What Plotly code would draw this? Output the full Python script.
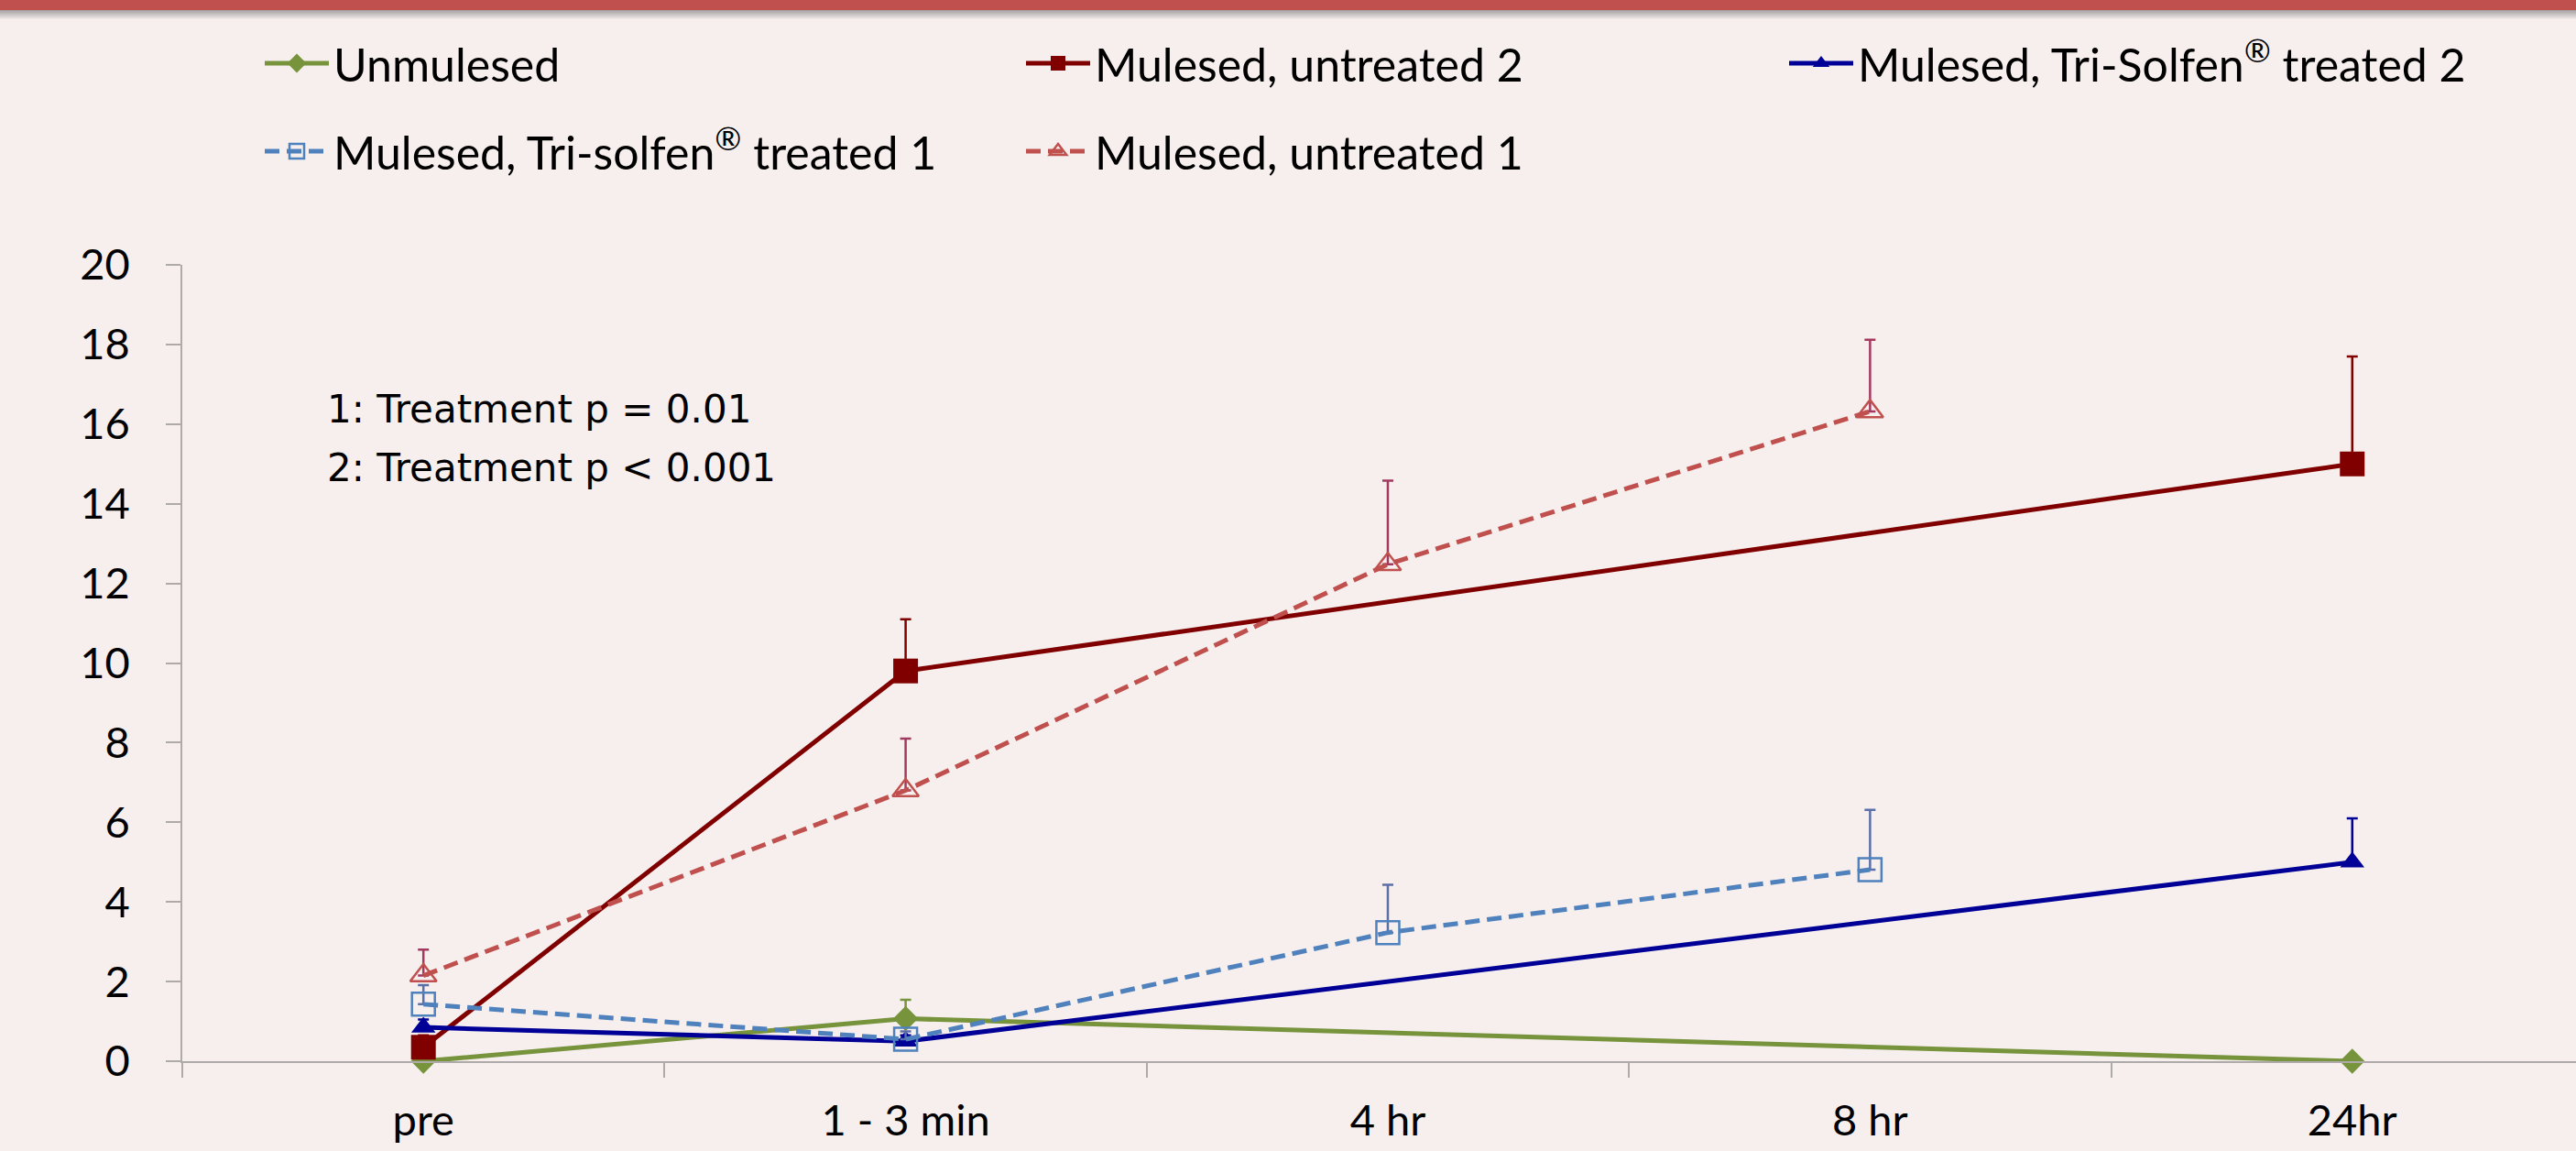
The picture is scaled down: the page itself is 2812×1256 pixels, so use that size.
import plotly.graph_objects as go

# ---------------- data ----------------
categories = ["pre", "1 - 3 min", "4 hr", "8 hr", "24hr"]
y_tick_values = [0, 2, 4, 6, 8, 10, 12, 14, 16, 18, 20]

unmulesed = [0.0, 1.07, None, None, 0.0]
unmulesed_err = [0.0, 0.47, 0.0, 0.0, 0.0]

untreated_2 = [0.35, 9.8, None, None, 15.0]
untreated_2_err = [0.3, 1.3, 0.0, 0.0, 2.7]

treated_2 = [0.85, 0.5, None, None, 5.0]
treated_2_err = [0.2, 0.15, 0.0, 0.0, 1.1]

treated_1 = [1.43, 0.55, 3.23, 4.81, None]
treated_1_err = [0.48, 0.2, 1.2, 1.5, 0.0]

untreated_1 = [2.15, 6.8, 12.48, 16.32, None]
untreated_1_err = [0.65, 1.3, 2.1, 1.8, 0.0]

series_names = [
    "Unmulesed",
    "Mulesed, untreated 2",
    "Mulesed, Tri-Solfen<sup>®</sup> treated 2",
    "Mulesed, Tri-solfen<sup>®</sup> treated 1",
    "Mulesed, untreated 1",
]
annotation_lines = ["1: Treatment p = 0.01", "2: Treatment p < 0.001"]

# ---------------- styling ----------------
W, H = 2812, 1256
ML, MR, MT, MB = 199, 0, 289, 98
BG = "rgb(246,239,238)"
AXIS_GRAY = "rgb(175,170,170)"
GREEN = "#77933C"
MAROON = "#800000"
NAVY = "#000096"
LBLUE = "#4F81BD"
LRED = "#C0504D"
TICK_FONT = dict(family="Lato, Open Sans, sans-serif", size=47, color="black")

plot_w = W - ML - MR
plot_h = H - MT - MB


def px_x(px):
    return (px - ML) / plot_w


def px_y(py):
    return (H - MB - py) / plot_h


# legend slot for each series: (legend id, text-left x px, row centre y px)
legend_slots = [
    ("legend", 374, 69),
    ("legend2", 1205, 69),
    ("legend3", 2038, 69),
    ("legend4", 374, 165),
    ("legend5", 1205, 165),
]

fig = go.Figure()


def add_series(idx, y, err, color, err_color, symbol, msize, dash, lw, mline=0):
    fig.add_trace(go.Scatter(
        x=categories, y=y, name=series_names[idx], mode="lines+markers",
        connectgaps=True, cliponaxis=False, legend=legend_slots[idx][0],
        line=dict(color=color, width=lw, dash=dash),
        marker=dict(symbol=symbol, size=msize, color=color,
                    line=dict(color=color, width=mline)),
        error_y=dict(type="data", array=err, arrayminus=[0] * len(err),
                     symmetric=False, color=err_color, thickness=2.5, width=6),
    ))


add_series(0, unmulesed, unmulesed_err, GREEN, GREEN, "diamond", 21, "solid", 5)
add_series(1, untreated_2, untreated_2_err, MAROON, MAROON, "square", 27, "solid", 5)
add_series(2, treated_2, treated_2_err, NAVY, NAVY, "triangle-up", 23, "solid", 5)
add_series(3, treated_1, treated_1_err, LBLUE, "#5B6FA8", "square-open", 25,
           "16px,8px", 5, mline=2.5)
add_series(4, untreated_1, untreated_1_err, LRED, "#A3395F", "triangle-up-open", 25,
           "16px,8px", 5, mline=2.5)

legends = {}
for lid, tx, cy in legend_slots:
    legends[lid] = dict(
        orientation="h", xref="container", yref="container",
        x=(tx - 90) / W, y=1 - cy / H, xanchor="left", yanchor="middle",
        font=dict(family="Lato, Open Sans, sans-serif", size=50, color="black"),
        itemwidth=70, bgcolor="rgba(0,0,0,0)",
    )

shapes = [
    dict(type="rect", xref="paper", yref="paper", layer="above",
         x0=px_x(0), x1=px_x(W), y0=px_y(11), y1=px_y(-2),
         fillcolor=LRED, line=dict(width=0)),
]
for i in range(10):
    shapes.append(dict(type="rect", xref="paper", yref="paper", layer="above",
                       x0=px_x(0), x1=px_x(W), y0=px_y(12 + i), y1=px_y(11 + i),
                       fillcolor="rgba(90,90,90,%.3f)" % (0.5 * (1 - i / 10)),
                       line=dict(width=0)))

annotations = []
for i, txt in enumerate(annotation_lines):
    annotations.append(dict(
        text=txt, xref="paper", yref="paper", x=px_x(356), y=px_y(447 + 63 * i),
        xanchor="left", yanchor="middle", showarrow=False, borderpad=0,
        font=dict(family="DejaVu Sans, Verdana, sans-serif", size=42, color="black"),
    ))

fig.update_layout(
    width=W, height=H,
    margin=dict(l=ML, r=MR, t=MT, b=MB, pad=0, autoexpand=False),
    paper_bgcolor=BG, plot_bgcolor=BG,
    showlegend=True,
    xaxis=dict(
        type="category", categoryorder="array", categoryarray=categories,
        range=[-0.5, 4.464], tickson="boundaries", automargin=False,
        ticks="outside", ticklen=16, tickwidth=1.5, tickcolor=AXIS_GRAY,
        showline=True, linecolor=AXIS_GRAY, linewidth=2,
        showgrid=False, zeroline=False, tickfont=TICK_FONT,
        ticklabelstandoff=23,
    ),
    yaxis=dict(
        range=[0, 20], tickvals=y_tick_values, automargin=False,
        ticks="outside", ticklen=16, tickwidth=1.5, tickcolor=AXIS_GRAY,
        showline=True, linecolor=AXIS_GRAY, linewidth=1.5,
        showgrid=False, zeroline=False, tickfont=TICK_FONT,
        ticklabelstandoff=30,
    ),
    shapes=shapes,
    annotations=annotations,
    **legends,
)

fig.write_html(
    "out.html",
    config={"displayModeBar": False},
    post_script="document.body.style.margin='0';document.body.style.overflow='hidden';",
)
